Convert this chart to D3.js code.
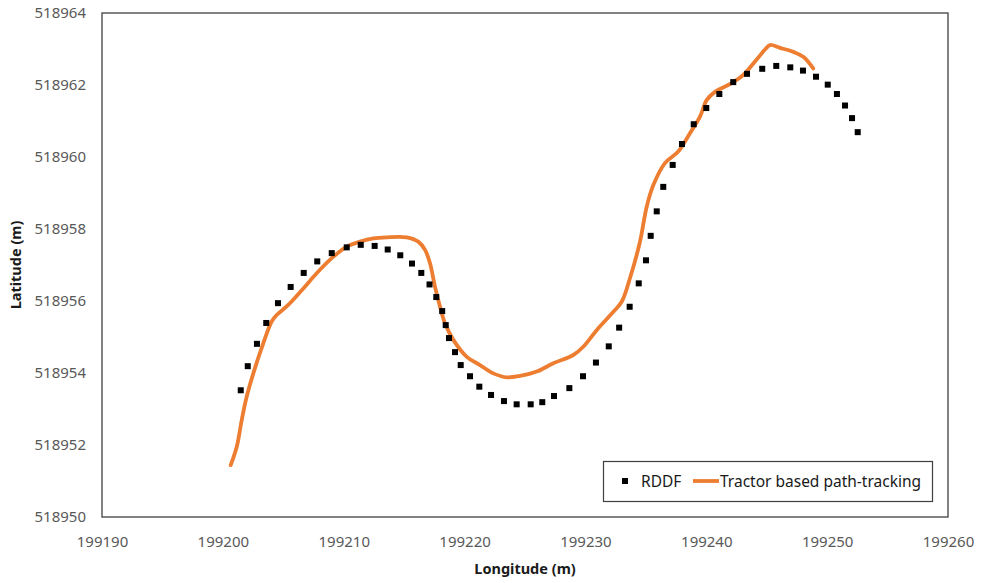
<!DOCTYPE html>
<html>
<head>
<meta charset="utf-8">
<script src="https://cdn.jsdelivr.net/npm/d3@7"></script>
<style>
  html, body { margin: 0; padding: 0; background: #fff; }
  svg { display: block; font-family: "Noto Sans", "Open Sans", sans-serif; }
</style>
</head>
<body>
<svg id="chart" width="982" height="583"></svg>
<script>
// RDDF reference points (longitude, latitude)
const rddfLon = [199201.48,199202.06,199202.82,199203.59,199204.56,199205.61,199206.69,199207.81,199209.01,199210.25,
  199211.41,199212.56,199213.64,199214.68,199215.65,199216.42,199217.10,199217.66,199218.15,199218.44,
  199218.71,199219.21,199219.68,199220.45,199221.22,199222.19,199223.26,199224.31,199225.47,199226.43,
  199227.40,199228.67,199229.80,199230.87,199231.93,199232.79,199233.66,199234.41,199235.01,199235.40,
  199235.90,199236.44,199237.22,199237.99,199238.96,199240.00,199241.08,199242.23,199243.37,199244.63,
  199245.79,199246.95,199248.00,199249.08,199250.05,199250.81,199251.48,199252.06,199252.53];
const rddfLat = [518953.52,518954.19,518954.81,518955.39,518955.94,518956.39,518956.78,518957.10,518957.33,518957.49,
  518957.56,518957.53,518957.43,518957.27,518957.04,518956.78,518956.46,518956.11,518955.72,518955.33,
  518954.97,518954.58,518954.22,518953.91,518953.62,518953.39,518953.22,518953.13,518953.13,518953.19,
  518953.36,518953.58,518953.91,518954.29,518954.74,518955.26,518955.84,518956.49,518957.13,518957.81,
  518958.49,518959.17,518959.78,518960.36,518960.91,518961.36,518961.75,518962.08,518962.31,518962.45,
  518962.53,518962.49,518962.40,518962.23,518962.01,518961.75,518961.43,518961.08,518960.69];

// Tractor based path-tracking (longitude, latitude)
const trackLon = [199200.65,199201.15,199201.56,199201.97,199202.52,199203.35,199204.04,199204.45,199205.41,199206.66,
  199207.76,199209.01,199210.25,199211.35,199212.45,199213.56,199215.21,199216.17,199216.73,199217.14,
  199217.55,199217.97,199218.38,199219.07,199220.18,199221.28,199222.38,199223.49,199224.59,199225.97,
  199227.34,199229.00,199229.82,199230.93,199232.31,199233.00,199233.69,199234.51,199235.07,199235.62,
  199236.58,199237.68,199238.65,199239.48,199240.03,199240.72,199242.10,199243.06,199244.10,199244.90,
  199245.27,199246.10,199247.20,199248.05,199248.85];
const trackLat = [518951.44,518951.95,518952.69,518953.34,518953.99,518954.83,518955.43,518955.61,518955.89,518956.35,
  518956.77,518957.19,518957.51,518957.65,518957.74,518957.77,518957.77,518957.65,518957.42,518957.05,
  518956.40,518955.84,518955.38,518954.92,518954.45,518954.22,518953.99,518953.88,518953.92,518954.04,
  518954.27,518954.50,518954.73,518955.19,518955.70,518955.98,518956.64,518957.64,518958.62,518959.22,
  518959.83,518960.15,518960.66,518961.12,518961.58,518961.81,518962.05,518962.28,518962.68,518963.00,
  518963.11,518963.03,518962.92,518962.78,518962.46];

const xTicks = [199190,199200,199210,199220,199230,199240,199250,199260];
const yTicks = [518950,518952,518954,518956,518958,518960,518962,518964];
const seriesNames = ["RDDF", "Tractor based path-tracking"];
const xTitle = "Longitude (m)";
const yTitle = "Latitude (m)";

const svg = d3.select("#chart");
const pL = 102, pR = 948, pT = 13, pB = 517;

const x = d3.scaleLinear().domain([199190, 199260]).range([pL, pR]);
const y = d3.scaleLinear().domain([518950, 518964]).range([pB, pT]);

// plot frame
svg.append("rect")
  .attr("x", pL).attr("y", pT)
  .attr("width", pR - pL).attr("height", pB - pT)
  .attr("fill", "none").attr("stroke", "#404040").attr("stroke-width", 1.3);

// axes
const xAxis = svg.append("g").attr("transform", `translate(0,${pB})`)
  .call(d3.axisBottom(x).tickValues(xTicks).tickSize(0).tickPadding(19).tickFormat(d3.format("d")));
const yAxis = svg.append("g").attr("transform", `translate(${pL},0)`)
  .call(d3.axisLeft(y).tickValues(yTicks).tickSize(0).tickPadding(16).tickFormat(d3.format("d")));
[xAxis, yAxis].forEach(g => {
  g.select(".domain").remove();
  g.selectAll("text").attr("fill", "#595959").style("font-size", "15px")
    .style("font-family", '"Noto Sans", sans-serif');
});

// axis titles
svg.append("text").attr("x", (pL + pR) / 2).attr("y", 574)
  .attr("text-anchor", "middle").attr("font-weight", "bold").attr("font-size", 14.5)
  .attr("fill", "#1a1a1a").text(xTitle);
svg.append("text").attr("transform", `translate(21,${(pT + pB) / 2}) rotate(-90)`)
  .attr("text-anchor", "middle").attr("font-weight", "bold").attr("font-size", 14.5)
  .attr("fill", "#1a1a1a").text(yTitle);

// tracking line
const trackData = trackLon.map((v, i) => [v, trackLat[i]]);
svg.append("path").datum(trackData)
  .attr("fill", "none").attr("stroke", "#ED7D31").attr("stroke-width", 3.8)
  .attr("stroke-linecap", "round").attr("stroke-linejoin", "round")
  .attr("d", d3.line().x(d => x(d[0])).y(d => y(d[1])).curve(d3.curveCatmullRom.alpha(0.5)));

// RDDF squares
const rddfData = rddfLon.map((v, i) => [v, rddfLat[i]]);
const ms = 6;
svg.append("g").selectAll("rect").data(rddfData).join("rect")
  .attr("x", d => x(d[0]) - ms / 2).attr("y", d => y(d[1]) - ms / 2)
  .attr("width", ms).attr("height", ms).attr("fill", "#000");

// legend
const lg = svg.append("g");
lg.append("rect").attr("x", 603.5).attr("y", 461.5).attr("width", 329).attr("height", 40)
  .attr("fill", "#fff").attr("stroke", "#404040").attr("stroke-width", 1.2);
lg.append("rect").attr("x", 625 - ms / 2).attr("y", 481 - ms / 2).attr("width", ms).attr("height", ms).attr("fill", "#000");
lg.append("text").attr("x", 641).attr("y", 486.5).attr("font-size", 15.5).attr("fill", "#1a1a1a").text(seriesNames[0]);
lg.append("line").attr("x1", 693).attr("x2", 719).attr("y1", 481).attr("y2", 481)
  .attr("stroke", "#ED7D31").attr("stroke-width", 3.8);
lg.append("text").attr("x", 720).attr("y", 486.5).attr("font-size", 15.5).attr("fill", "#1a1a1a").text(seriesNames[1]);
</script>
</body>
</html>
